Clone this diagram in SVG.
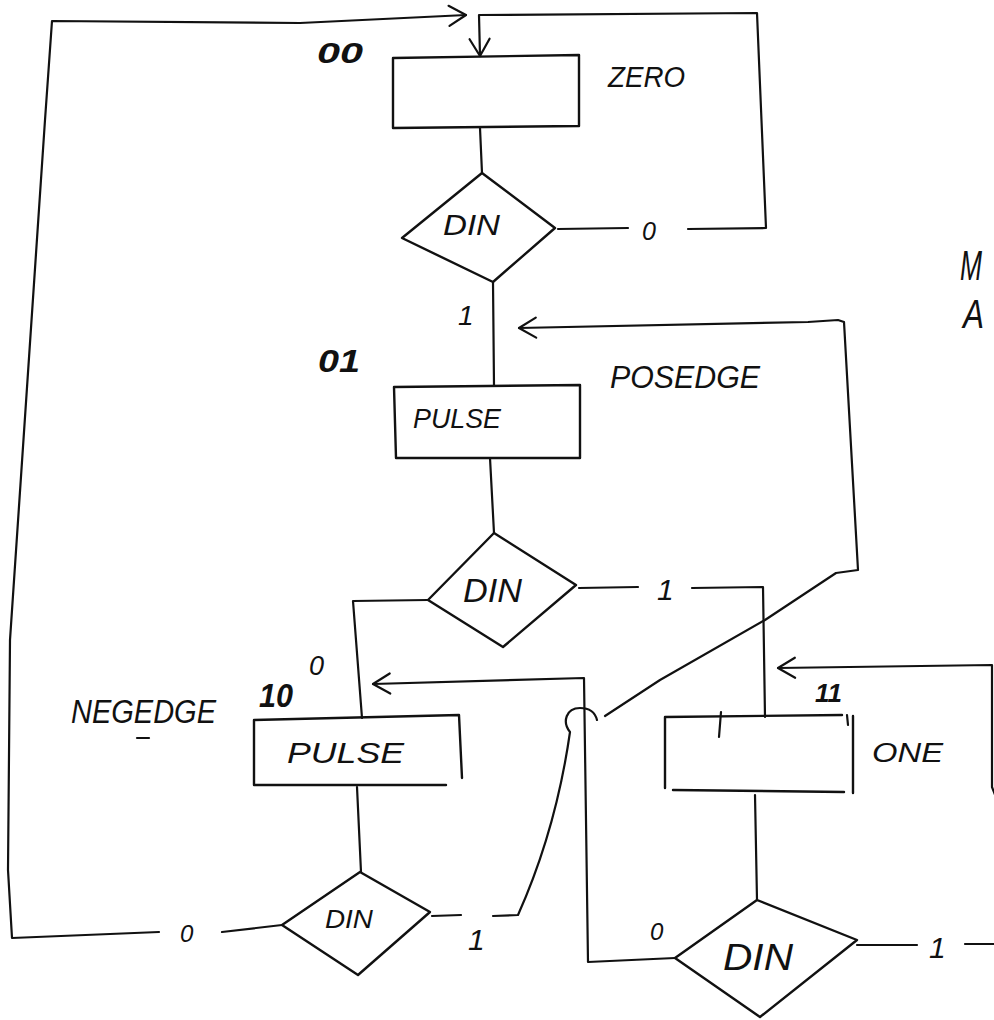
<svg xmlns="http://www.w3.org/2000/svg" width="994" height="1020" viewBox="0 0 994 1020">
<defs>
<style>
.ln{fill:none;stroke:#111;stroke-width:2.2;stroke-linecap:round;stroke-linejoin:round}
.shape{fill:none;stroke:#111;stroke-width:2.4;stroke-linecap:round;stroke-linejoin:round}
.t{font-family:"Liberation Sans",Arial,sans-serif;font-style:italic;fill:#111}
.code{font-family:"Liberation Sans",Arial,sans-serif;font-style:italic;font-weight:bold;fill:#111}
</style>
<marker id="ah" markerUnits="userSpaceOnUse" markerWidth="22" markerHeight="24" viewBox="0 0 22 24" refX="19" refY="12" orient="auto">
<path d="M2,2 L19,12 L2,22" fill="none" stroke="#111" stroke-width="2.2" stroke-linecap="round" stroke-linejoin="round"/>
</marker>
</defs>
<rect width="994" height="1020" fill="#fff"/>

<g id="connectors">
<!-- din0 -> zero (0) -->
<path class="ln" d="M558,229 L628,228"/>
<path class="ln" d="M688,229 L766,228 L757,13 L479,15 L480,56" marker-end="url(#ah)"/>
<!-- zero -> din0 -->
<path class="ln" d="M480,128 L482,173"/>
<!-- din0 -> posedge (1) -->
<path class="ln" d="M493,282 L494,386"/>
<!-- posedge -> din1 -->
<path class="ln" d="M490,458 L494,533"/>
<!-- din1 -> one (1) -->
<path class="ln" d="M579,588 L638,587"/>
<path class="ln" d="M692,588 L763,587 L765,717"/>
<!-- din1 -> negedge (0) -->
<path class="ln" d="M428,600 L353,601 L362,718"/>
<!-- negedge -> din2 -->
<path class="ln" d="M357,787 L361,872"/>
<!-- din2 -> zero (0) -->
<path class="ln" d="M282,925 L222,932"/>
<path class="ln" d="M159,932 L12,938 L8,870 L10,640 L45,120 L52,21 L300,23 L466,15" marker-end="url(#ah)"/>
<!-- din2 -> posedge (1) -->
<path class="ln" d="M432,916 L461,915"/>
<path class="ln" d="M493,916 L518,915 Q556,830 570,732 C562,722 566,708 580,708 C590,708 595,712 597,720"/>
<path class="ln" d="M605,716 L660,680 L765,620 L836,573 L858,570 L844,322 L838,320 L808,322 L519,328" marker-end="url(#ah)"/>
<!-- one -> din3 -->
<path class="ln" d="M755,795 L757,900"/>
<!-- din3 -> negedge (0) -->
<path class="ln" d="M675,958 L588,962 L584,678 L373,684" marker-end="url(#ah)"/>
<!-- din3 -> one (1) -->
<path class="ln" d="M857,945 L917,945"/>
<path class="ln" d="M965,944 L997,944 L997,800 L992,787 L992,665 L778,668" marker-end="url(#ah)"/>
</g>

<g id="labels">
<text class="t" x="642" y="240" font-size="25">0</text>
<text class="t" x="458" y="325" font-size="28">1</text>
<text class="t" x="657" y="600" font-size="30">1</text>
<text class="t" x="309" y="675" font-size="27">0</text>
<text class="t" x="180" y="942" font-size="24">0</text>
<text class="t" x="468" y="950" font-size="30">1</text>
<text class="t" x="650" y="940" font-size="24">0</text>
<text class="t" x="929" y="958" font-size="30">1</text>
<text class="t" x="960" y="280" font-size="42" textLength="22" lengthAdjust="spacingAndGlyphs">M</text>
<text class="t" x="963" y="328" font-size="40" textLength="21" lengthAdjust="spacingAndGlyphs">A</text>
</g>

<g id="zero">
<path class="shape" d="M393,58 L579,55 L579,126 L393,128 Z"/>
<text class="code" x="317" y="63" font-size="30" textLength="46" lengthAdjust="spacingAndGlyphs">00</text>
<text class="t" x="608" y="87" font-size="29" textLength="77" lengthAdjust="spacingAndGlyphs">ZERO</text>
</g>

<g id="din0">
<path class="shape" d="M482,173 L555,228 L493,282 L402,238 Z"/>
<text class="t" x="443" y="235" font-size="30" textLength="57" lengthAdjust="spacingAndGlyphs">DIN</text>
</g>

<g id="posedge">
<path class="shape" d="M394,387 L580,385 L580,458 L396,458 Z"/>
<text class="code" x="318" y="372" font-size="32" textLength="42" lengthAdjust="spacingAndGlyphs">01</text>
<text class="t" x="610" y="388" font-size="32" textLength="150" lengthAdjust="spacingAndGlyphs">POSEDGE</text>
<text class="t" x="413" y="428" font-size="27" textLength="88" lengthAdjust="spacingAndGlyphs">PULSE</text>
</g>

<g id="din1">
<path class="shape" d="M494,533 L576,585 L503,647 L428,600 Z"/>
<text class="t" x="463" y="602" font-size="33" textLength="59" lengthAdjust="spacingAndGlyphs">DIN</text>
</g>

<g id="negedge">
<path class="shape" d="M254,720 L459,715 L462,778 M446,785 L254,785 L254,720"/>
<text class="code" x="259" y="707" font-size="34" textLength="34" lengthAdjust="spacingAndGlyphs">10</text>
<text class="t" x="71" y="723" font-size="33" textLength="145" lengthAdjust="spacingAndGlyphs">NEGEDGE</text>
<line class="ln" x1="137" y1="738" x2="149" y2="738" stroke-width="1"/>
<text class="t" x="287" y="763" font-size="29" textLength="117" lengthAdjust="spacingAndGlyphs">PULSE</text>
</g>

<g id="din2">
<path class="shape" d="M360,872 L430,912 L358,975 L282,925 Z"/>
<text class="t" x="325" y="928" font-size="25" textLength="48" lengthAdjust="spacingAndGlyphs">DIN</text>
</g>

<g id="one">
<path class="shape" d="M665,717 L842,715 M853,716 L853,793 M844,792 L673,790 M665,788 L665,717"/>
<line class="ln" x1="721" y1="712" x2="719" y2="737"/>
<line class="ln" x1="847" y1="715" x2="848" y2="725"/>
<text class="code" x="815" y="702" font-size="26" textLength="27" lengthAdjust="spacingAndGlyphs">11</text>
<text class="t" x="872" y="762" font-size="28" textLength="71" lengthAdjust="spacingAndGlyphs">ONE</text>
</g>

<g id="din3">
<path class="shape" d="M757,900 L857,940 L760,1017 L675,958 Z"/>
<text class="t" x="723" y="970" font-size="37" textLength="70" lengthAdjust="spacingAndGlyphs">DIN</text>
</g>
</svg>
